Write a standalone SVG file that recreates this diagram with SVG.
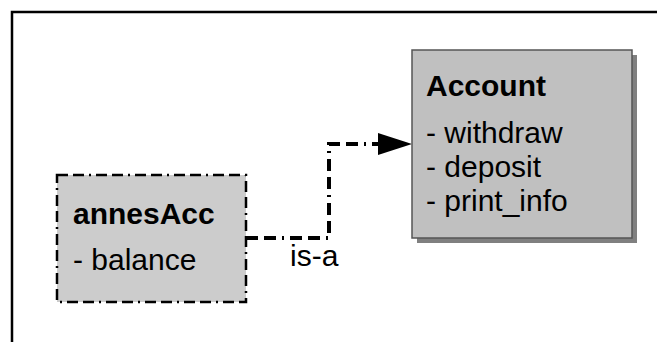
<svg xmlns="http://www.w3.org/2000/svg" width="657" height="342" viewBox="0 0 657 342">
<defs>
<style>
.t{font-family:"Liberation Sans",Arial,sans-serif;font-size:30px;fill:#000}
.b{font-weight:bold}
</style>
</defs>
<rect x="0" y="0" width="657" height="342" fill="#fff"/>
<path d="M12,342 V12 H657" fill="none" stroke="#000" stroke-width="2.5"/>
<g id="connectors">
<path d="M246,238 H329 V144 H378" fill="none" stroke="#000" stroke-width="4" stroke-dasharray="12 6 12 6 2 6"/>
<path d="M378,133 L412,144 L378,155 Z" fill="#000"/>
<text class="t" x="290" y="266">is-a</text>
</g>
<g id="annesAcc">
<rect x="57" y="175" width="189" height="127" fill="#cccccc" stroke="#000" stroke-width="2.5" stroke-dasharray="11 5 11 5 2 5"/>
<text class="t b" x="73" y="224">annesAcc</text>
<text class="t" x="73" y="270">- balance</text>
</g>
<g id="Account">
<rect x="417" y="55" width="220" height="188" fill="#808080"/>
<rect x="412" y="50" width="220" height="188" fill="#c0c0c0" stroke="#555" stroke-width="1.5"/>
<text class="t b" x="426" y="96">Account</text>
<text class="t" x="426" y="143">- withdraw</text>
<text class="t" x="426" y="177">- deposit</text>
<text class="t" x="426" y="211">- print_info</text>
</g>
</svg>
